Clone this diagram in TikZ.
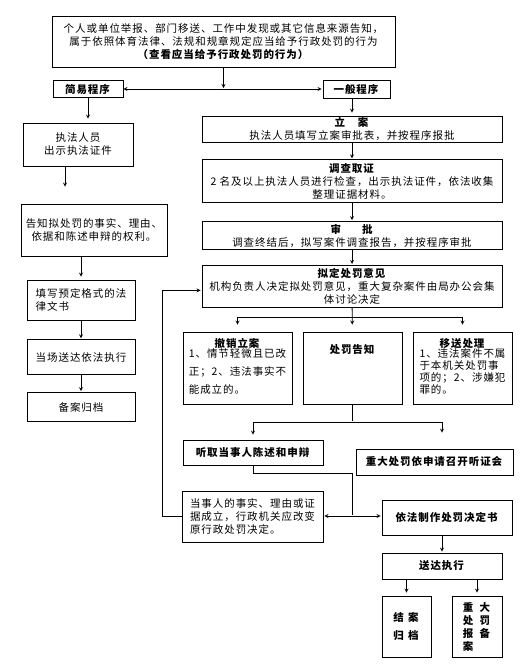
\documentclass[tikz,border=0pt]{standalone}
\usepackage{fontspec}
\setmainfont{Noto Sans CJK SC}[LetterSpace=9]
\usepackage{tikz}
\usetikzlibrary{arrows, positioning}

\begin{document}
\begin{tikzpicture}[
            > = stealth, % arrow head style
            shorten > = 1pt, % don't touch arrow head to node
            x = 1pt, y = -1pt, % one unit per pixel
            line width = 0.8pt, % line style
            font = \fontsize{10.5}{13}\selectfont
        ]

        \tikzstyle{box}=[
            draw = black,
            line width = 0.8pt,
            inner xsep = 2pt,
            inner ysep = 1pt,
            align = center
        ]

        \useasboundingbox (0,0) rectangle (524,670);

        % source of the case
        \node[box, minimum width=343pt, minimum height=51pt] (source) at (223.5,41.5)
            {个人或单位举报、部门移送、工作中发现或其它信息来源告知，\\
             属于依照体育法律、法规和规章规定应当给予行政处罚的行为\\
             \textbf{（查看应当给予行政处罚的行为）}};
        \node[box, minimum width=70pt, minimum height=17pt] (simple) at (88,89) {\textbf{简易程序}};
        \node[box, minimum width=67pt, minimum height=18pt] (general) at (356.5,89) {\textbf{一般程序}};

        \draw[<->] (simple) -- (general);
        \draw[->] (source) -- (source |- simple);

        % simple procedure
        \node[box, minimum width=110pt, minimum height=43pt] (show) at (78,144.5) {执法人员\\出示执法证件};
        \node[box, minimum width=146pt, minimum height=52pt] (inform) at (94,230)
            {告知拟处罚的事实、理由、\\依据和陈述申辩的权利。};
        \node[box, minimum width=108pt, minimum height=40pt, align=left] (fill) at (81,300)
            {填写预定格式的法\\律文书};
        \node[box, minimum width=108pt, minimum height=35pt, below=19pt of fill] (serve) {当场送达依法执行};
        \node[box, minimum width=108pt, minimum height=29pt, below=17pt of serve] (file) {备案归档};

        \draw[->, shorten > = 4pt] (simple) -- (simple |- show.north);
        \draw[->, shorten > = 17pt] ([xshift=-13pt]show.south) -- ([xshift=-13pt]show.south |- inform.north);
        \draw[->, shorten > = 3pt] (inform.south -| fill) -- (fill);
        \path[->] (fill) edge node {} (serve);
        \path[->] (serve) edge node {} (file);

        % general procedure
        \node[box, minimum width=300pt, minimum height=26pt] (register) at (352,129)
            {\textbf{立\hspace{1.2em}案}\\执法人员填写立案审批表，并按程序报批};
        \node[box, minimum width=300pt, minimum height=43pt, below=17pt of register] (investigate)
            {\textbf{调查取证}\\2 名及以上执法人员进行检查，出示执法证件，依法收集\\整理证据材料。};
        \node[box, minimum width=300pt, minimum height=28pt, below=18pt of investigate] (approve)
            {\textbf{审\hspace{2em}批}\\调查终结后，拟写案件调查报告，并按程序审批};
        \node[box, minimum width=300pt, minimum height=42pt, below=15pt of approve] (opinion)
            {\textbf{拟定处罚意见}\\机构负责人决定拟处罚意见，重大复杂案件由局办公会集\\体讨论决定};

        \draw[->, shorten > = 3pt] (general.south -| register) -- (register);
        \path[->] (register) edge node {} (investigate);
        \path[->] (investigate) edge node {} (approve);
        \path[->] (approve) edge node {} (opinion);

        % three outcomes
        \node[box, minimum width=109pt, minimum height=72pt] (cancel) at (237.5,368)
            {\textbf{撤销立案}\\[-1pt]\begin{tabular}{@{}l@{}}1、情节轻微且已改\\[5pt]正；2、违法事实不\\[5pt]能成立的。\end{tabular}};
        \node[box, minimum width=99pt, minimum height=72pt] (notice) at (352.5,368)
            {\textbf{处罚告知}\\[26pt]\mbox{}};
        \node[box, minimum width=99pt, minimum height=72pt] (transfer) at (462.5,368)
            {\textbf{移送处理}\\[-1pt]\begin{tabular}{@{}l@{}}1、违法案件不属\\[-1pt]于本机关处罚事\\[-1pt]项的；2、涉嫌犯\\[-1pt]罪的。\end{tabular}};

        \coordinate (split) at ([yshift=-10pt]opinion.south);
        \draw[->, shorten > = 7pt] (opinion) -- (notice);
        \draw[->, shorten > = 7pt] (split) -| (cancel);
        \draw[->, shorten > = 7pt] (split) -| (transfer);

        % hearing
        \node[box, minimum width=140pt, minimum height=25pt] (hear) at (253,452.5) {\textbf{听取当事人陈述和申辩}};
        \node[box, minimum width=157pt, minimum height=26pt] (hearing) at (434.5,462) {\textbf{重大处罚依申请召开听证会}};

        \coordinate (fork) at ([yshift=-18pt]notice.south);
        \draw (notice) -- (fork);
        \draw[->, shorten > = 5pt] (fork) -| (hear);
        \draw[->, shorten > = 16pt] (fork) -| ([xshift=7.5pt]hearing.north);

        % decision
        \node[box, minimum width=141pt, minimum height=51pt, align=left] (facts) at (252.5,516.5)
            {当事人的事实、理由或证\\据成立，行政机关应改变\\原行政处罚决定。};
        \node[box, minimum width=130pt, minimum height=35pt] (decide) at (447,517.5) {\textbf{依法制作处罚决定书}};
        \node[box, minimum width=120pt, minimum height=26pt] (deliver) at (442,566) {\textbf{送达执行}};
        \node[box, minimum width=49pt, minimum height=61pt] (close) at (406.5,626.5)
            {\textbf{结\hspace{0.4em}案}\\[5pt]\textbf{归\hspace{0.4em}档}};
        \node[box, minimum width=50pt, minimum height=61pt, align=left] (report) at (477,626.5)
            {\textbf{重\hspace{0.6em}大}\\\textbf{处\hspace{0.6em}罚}\\\textbf{报\hspace{0.6em}备}\\\textbf{案}};

        \coordinate (join) at (352,473);
        \coordinate (merge) at (352,516);
        \draw (hear) |- (join) -- (merge);
        \draw[->] (merge) -- (merge -| facts.east);
        \draw[->] (merge) -- (merge -| decide.west);
        \draw[->] (facts.west) -- ++(-19,0) |- ([yshift=-4pt]opinion.west);
        \draw[->] (decide.south -| deliver) -- (deliver);
        \draw[->, shorten > = 3pt] (deliver.south -| close) -- (close);
        \draw[->, shorten > = 3pt] (deliver.south -| report) -- (report);

  \end{tikzpicture}
\end{document}
